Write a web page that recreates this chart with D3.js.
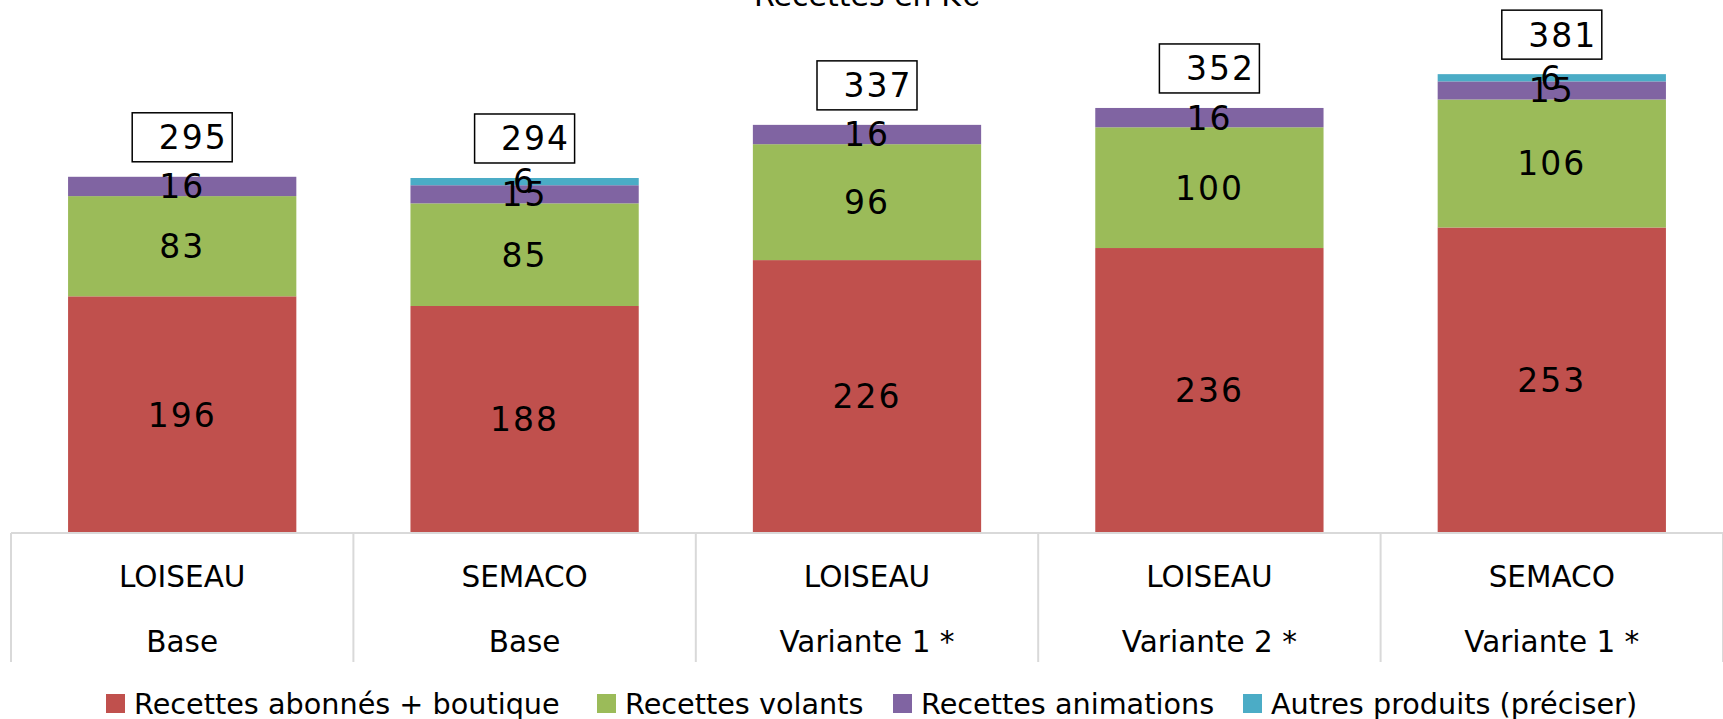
<!DOCTYPE html>
<html>
<head>
<meta charset="utf-8">
<script src="https://cdn.jsdelivr.net/npm/d3@7"></script>
<style>
  body { margin: 0; background: #fff; }
  svg { display: block; font-family: "DejaVu Sans", sans-serif; }
</style>
</head>
<body>
<svg id="chart" width="1723" height="719"></svg>
<script>
// Data
const companies = ["LOISEAU", "SEMACO", "LOISEAU", "LOISEAU", "SEMACO"];
const variants = ["Base", "Base", "Variante 1 *", "Variante 2 *", "Variante 1 *"];
const seriesNames = ["Recettes abonnés + boutique", "Recettes volants", "Recettes animations", "Autres produits (préciser)"];
const abonnes = [196, 188, 226, 236, 253];
const volants = [83, 85, 96, 100, 106];
const animations = [16, 15, 16, 16, 15];
const autres = [0, 6, 0, 0, 6];
const totals = [295, 294, 337, 352, 381];
const colors = ["#C0504D", "#9BBB59", "#8064A2", "#4BACC6"];

const width = 1723, height = 719;
const margin = { top: 50, right: 0, bottom: 186, left: 11 };
const baseY = height - margin.bottom;

const svg = d3.select("#chart");

const cats = d3.range(companies.length);
const x = d3.scaleBand()
    .domain(cats)
    .range([margin.left, width - margin.right])
    .padding(0);

const y = d3.scaleLinear()
    .domain([0, 400])
    .range([baseY, margin.top]);

const barInset = x.step() / 6;
const barW = x.step() - 2 * barInset;

// Build stack rows
const rows = cats.map(i => ({ i, s0: abonnes[i], s1: volants[i], s2: animations[i], s3: autres[i] }));
const stack = d3.stack().keys(["s0", "s1", "s2", "s3"])(rows);

// Title (clipped at top in the original)
svg.append("text")
    .attr("x", (margin.left + width) / 2)
    .attr("y", 6)
    .attr("text-anchor", "middle")
    .attr("font-size", 30)
    .attr("fill", "#000")
    .text("Recettes en K€");

// Bars
stack.forEach((layer, k) => {
    svg.append("g")
        .selectAll("rect")
        .data(layer.filter(d => d[1] - d[0] > 0))
        .join("rect")
        .attr("x", d => x(d.data.i) + barInset)
        .attr("width", barW)
        .attr("y", d => y(d[1]))
        .attr("height", d => y(d[0]) - y(d[1]))
        .attr("fill", colors[k]);
});

// Segment labels
stack.forEach((layer, k) => {
    svg.append("g")
        .selectAll("text")
        .data(layer.filter(d => d[1] - d[0] > 0))
        .join("text")
        .attr("x", d => x(d.data.i) + x.bandwidth() / 2)
        .attr("y", d => (y(d[0]) + y(d[1])) / 2)
        .attr("dy", "0.36em")
        .attr("text-anchor", "middle")
        .attr("font-size", 33)
        .attr("letter-spacing", 2)
        .attr("fill", "#000")
        .text(d => d[1] - d[0]);
});

// Total boxes
const tops = stack[stack.length - 1];
const boxW = 100, boxH = 49, boxGap = 15;
const totalG = svg.append("g")
    .selectAll("g")
    .data(cats)
    .join("g");
totalG.append("rect")
    .attr("x", i => x(i) + x.bandwidth() / 2 - boxW / 2)
    .attr("y", i => y(tops[i][1]) - boxGap - boxH)
    .attr("width", boxW)
    .attr("height", boxH)
    .attr("fill", "#fff")
    .attr("stroke", "#000")
    .attr("stroke-width", 1.5);
totalG.append("text")
    .attr("x", i => x(i) + x.bandwidth() / 2 + 11)
    .attr("y", i => y(tops[i][1]) - boxGap - boxH / 2)
    .attr("dy", "0.36em")
    .attr("text-anchor", "middle")
    .attr("font-size", 33)
    .attr("letter-spacing", 2)
    .text(i => totals[i]);

// Category axis: baseline and separators
const axisColor = "#D9D9D9";
svg.append("line")
    .attr("x1", margin.left).attr("x2", width)
    .attr("y1", baseY).attr("y2", baseY)
    .attr("stroke", axisColor).attr("stroke-width", 2);
svg.append("g")
    .selectAll("line")
    .data(cats.concat([cats.length]))
    .join("line")
    .attr("x1", i => margin.left + i * x.step())
    .attr("x2", i => margin.left + i * x.step())
    .attr("y1", baseY)
    .attr("y2", baseY + 129)
    .attr("stroke", axisColor)
    .attr("stroke-width", 2);

const catG = svg.append("g");
catG.selectAll(".comp")
    .data(cats)
    .join("text")
    .attr("x", i => x(i) + x.bandwidth() / 2)
    .attr("y", baseY + 54)
    .attr("text-anchor", "middle")
    .attr("font-size", 29.5)
    .text(i => companies[i]);
catG.selectAll(".var")
    .data(cats)
    .join("text")
    .attr("x", i => x(i) + x.bandwidth() / 2)
    .attr("y", baseY + 119)
    .attr("text-anchor", "middle")
    .attr("font-size", 29.5)
    .text(i => variants[i]);

// Legend
const legendX = [106, 597, 893, 1243];
const legend = svg.append("g")
    .selectAll("g")
    .data(seriesNames)
    .join("g")
    .attr("transform", (d, k) => `translate(${legendX[k]},694)`);
legend.append("rect")
    .attr("width", 19).attr("height", 19)
    .attr("fill", (d, k) => colors[k]);
legend.append("text")
    .attr("x", 28)
    .attr("y", 20)
    .attr("font-size", 28.7)
    .text(d => d);
</script>
</body>
</html>
